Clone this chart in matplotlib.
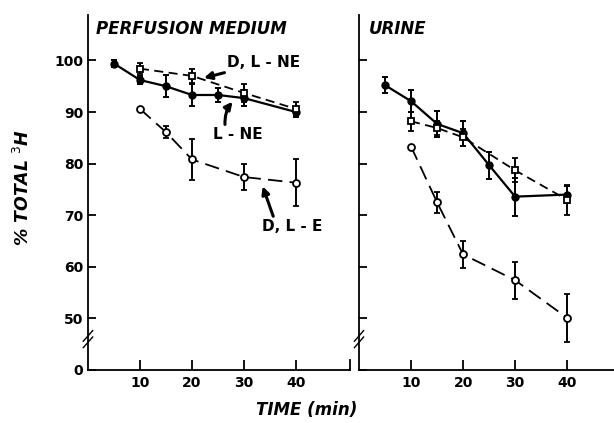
import matplotlib
matplotlib.use('Agg')
import matplotlib.pyplot as plt

# time points (min)
t_lne = [5, 10, 15, 20, 25, 30, 40]
t_dlne_pm = [10, 20, 30, 40]
t_dlne_ur = [10, 15, 20, 30, 40]
t_dle = [10, 15, 20, 30, 40]

# perfusion medium, % total 3H
pm_lne = [99.4, 96.2, 95.0, 93.3, 93.3, 92.7, 90.0]
pm_lne_err = [0.6, 0.8, 2.1, 2.1, 1.3, 1.5, 0.9]
pm_dlne = [98.4, 97.0, 93.7, 90.6]
pm_dlne_err = [1.1, 1.4, 1.7, 1.4]
pm_dle = [90.6, 86.1, 80.8, 77.4, 76.3]
pm_dle_err = [0.0, 1.1, 4.0, 2.5, 4.5]

# urine, % total 3H
ur_lne = [95.2, 92.1, 87.7, 85.9, 79.7, 73.6, 74.0]
ur_lne_err = [1.6, 2.1, 2.5, 2.4, 2.6, 3.7, 1.7]
ur_dlne = [88.2, 86.9, 85.1, 78.7, 73.0]
ur_dlne_err = [1.8, 1.4, 1.7, 2.3, 2.9]
ur_dle = [83.3, 72.5, 62.4, 57.4, 50.1]
ur_dle_err = [0.0, 2.0, 2.6, 3.6, 4.6]

yticks = [40, 50, 60, 70, 80, 90, 100]
ytick_labels = ['0', '50', '60', '70', '80', '90', '100']
xticks = [10, 20, 30, 40]

fig = plt.figure(figsize=(6.14, 4.23), dpi=100)
ax1 = fig.add_axes([0.1433, 0.1253, 0.4267, 0.8392])
ax2 = fig.add_axes([0.5847, 0.1253, 0.4153, 0.8392])


def draw_panel(ax, lne, lne_err, t_dl, dlne, dlne_err, dle, dle_err, xmax):
    ax.errorbar(t_lne, lne, yerr=lne_err, color='black', lw=1.6, marker='o', ms=5,
                mfc='black', capsize=2.5, elinewidth=1.4, capthick=1.4, zorder=3)
    ax.errorbar(t_dl, dlne, yerr=dlne_err, color='black', lw=1.3, ls=(0, (5, 3)), marker='s',
                ms=5, mfc='white', mew=1.3, capsize=2.5, elinewidth=1.4, capthick=1.4, zorder=4)
    ax.errorbar(t_dle, dle, yerr=dle_err, color='black', lw=1.3,
                ls=(0, (8, 4)), marker='o', ms=5, mfc='white', mew=1.3, capsize=2.5,
                elinewidth=1.4, capthick=1.4, zorder=4)
    ax.set_xlim(0, xmax)
    ax.set_ylim(40, 108.8)
    ax.spines['top'].set_visible(False)
    ax.spines['right'].set_visible(False)
    for s in ['left', 'bottom']:
        ax.spines[s].set_linewidth(1.3)
    ax.set_yticks(yticks)
    ax.set_xticks(xticks)
    ax.tick_params(axis='y', direction='in', length=6, width=1.3)
    ax.tick_params(axis='x', direction='in', length=7, width=1.3, pad=4)
    for lab in ax.get_xticklabels():
        lab.set_fontsize(10)
        lab.set_fontweight('bold')
    # axis break marks
    for dy in (-0.012, 0.006):
        ax.plot([-0.018, 0.018], [0.075 + dy, 0.105 + dy], transform=ax.transAxes,
                color='black', lw=1.0, clip_on=False)


draw_panel(ax1, pm_lne, pm_lne_err, t_dlne_pm, pm_dlne, pm_dlne_err, pm_dle, pm_dle_err, 50.4)
draw_panel(ax2, ur_lne, ur_lne_err, t_dlne_ur, ur_dlne, ur_dlne_err, ur_dle, ur_dle_err, 49.0)

ax1.set_yticklabels(ytick_labels, fontsize=10, fontweight='bold')
ax2.set_yticklabels([])
ax1.plot([1, 1], [0, 0.028], transform=ax1.transAxes, color='black', lw=1.3, clip_on=False)

ax1.text(0.03, 0.985, 'PERFUSION MEDIUM', transform=ax1.transAxes, fontsize=12,
         fontweight='bold', style='italic', va='top', ha='left')
ax2.text(0.04, 0.985, 'URINE', transform=ax2.transAxes, fontsize=12,
         fontweight='bold', style='italic', va='top', ha='left')

arrow = dict(arrowstyle='-|>', color='black', lw=2.2, mutation_scale=11, shrinkA=0, shrinkB=0)
ax1.annotate('D, L - NE', xy=(22.3, 96.6), xytext=(26.8, 99.6), fontsize=11,
             fontweight='bold', va='center', ha='left', arrowprops=arrow)
ax1.annotate('L - NE', xy=(27.8, 92.0), xytext=(24.0, 85.6), fontsize=11,
             fontweight='bold', va='center', ha='left',
             arrowprops=dict(arrow, connectionstyle='arc3,rad=-0.2', relpos=(0.25, 1.0)))
ax1.annotate('D, L - E', xy=(33.6, 75.6), xytext=(33.5, 67.8), fontsize=11,
             fontweight='bold', va='center', ha='left',
             arrowprops=dict(arrow, relpos=(0.2, 1.0)))

fig.text(0.038, 0.556, '% TOTAL $^{3}$H', rotation=90, fontsize=12.5, fontweight='bold',
         style='italic', ha='center', va='center')
fig.text(0.5, 0.03, 'TIME (min)', fontsize=12, fontweight='bold', style='italic',
         ha='center', va='center')

fig.savefig('out.png', dpi=100)
